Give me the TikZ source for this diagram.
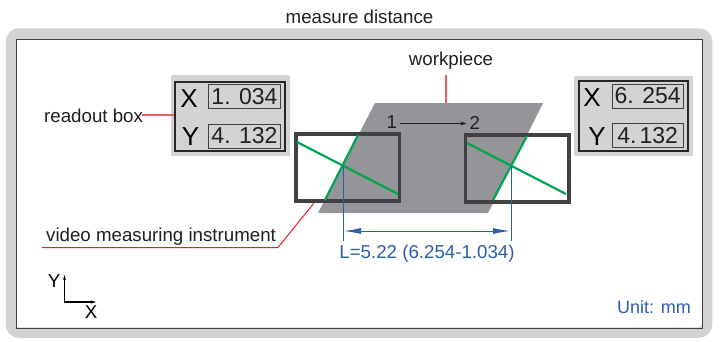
\documentclass[tikz,border=0pt]{standalone}
\usepackage{fontspec}
\setmainfont{Liberation Sans}
\usepackage{xcolor}
\usetikzlibrary{arrows.meta, positioning, calc}
\definecolor{FrameGray}{HTML}{D1D3D4}
\definecolor{PieceGray}{HTML}{939598}
\definecolor{DarkLine}{HTML}{414042}
\definecolor{TextDark}{HTML}{231F20}
\definecolor{LeadRed}{HTML}{ED1C24}
\definecolor{LeadPink}{HTML}{EF5A6B}
\definecolor{CrossGreen}{HTML}{00A651}
\definecolor{DimBlue}{HTML}{2B5FAB}
\tikzset{
  lbl/.style={font=\fontsize{18.7}{20}\selectfont, text=TextDark, inner sep=0pt},
  axis/.style={font=\fontsize{26}{28}\selectfont, text=black, inner sep=0pt},
  digits/.style={draw=DarkLine, line width=1pt, fill=FrameGray, font=\fontsize{23}{25}\selectfont, text=TextDark, inner sep=0pt, minimum width=71.4pt, minimum height=24pt},
  panel/.style={draw=black!85, line width=2pt, fill=FrameGray, inner sep=0pt, minimum width=109.5pt, minimum height=69.5pt},
  halo/.style={fill=FrameGray, rounded corners=1.5pt},
  lead/.style={LeadRed, line width=1pt},
  softlead/.style={LeadPink, line width=1.5pt},
  camera/.style={draw=DarkLine, line width=3.5pt, inner sep=0pt, minimum width=103.5pt, minimum height=67pt},
  hair/.style={CrossGreen, line width=2.2pt},
  dim/.style={DimBlue, line width=1pt},
}

\begin{document}
\begin{tikzpicture}[x=1pt, y=-1pt]
  \useasboundingbox (0,0) rectangle (720,341);
  % frame
  \draw[FrameGray, line width=10.5pt, rounded corners=8pt, fill=white] (11,33.5) rectangle (707,332.5);
  \draw[DarkLine, line width=0.9pt] (16,39) rectangle (702.5,328);
  \node (title) [lbl] at (359.5,17) {measure distance};

  % workpiece
  \fill[PieceGray] (375,103) -- (543,103) -- (488,213) -- (318,213) -- cycle;
  \node (workpiece) [lbl] at (451,61) {workpiece};
  \coordinate (pieceTop) at (446,75);
  \coordinate (pieceEdge) at (446,103);
  \draw[softlead] (pieceTop) -- (pieceEdge);

  % left instrument
  \fill[white] (295,133) -- (359.5,133) -- (323.7,202) -- (295,202) -- cycle;
  \node (camL) [camera, anchor=north west] at (294,132) {};
  \draw[hair] (297,142) -- (398,194);
  \draw[hair] (325,200) -- (358,135);

  % right instrument
  \fill[white] (527.5,134) -- (569,134) -- (569,202) -- (493.5,202) -- cycle;
  \node (camR) [camera, anchor=north west] at (463.5,133) {};
  \draw[hair] (467,143) -- (566,194);
  \draw[hair] (493,200) -- (527,136);

  % travel
  \node (one) [lbl] at (391.7,122.5) {1};
  \node (two) [lbl] at (474.7,122.5) {2};
  \draw[-{Stealth[length=6pt,width=4pt]}, TextDark, line width=0.7pt] ($(one.east)+(3,1)$) -- ($(two.west)+(-3,1)$);

  % readouts
  \fill[halo] (171,75) rectangle (290,156);
  \node (panelL) [panel, anchor=north west] at (174.3,80.7) {};
  \node (xL) [axis] at (189,99) {X};
  \node (yL) [axis] at (190.5,137) {Y};
  \node (xvalL) [digits] at (244.5,96.5) {1. 034};
  \node (yvalL) [digits] at (244.5,136) {4. 132};

  \fill[halo] (574,76) rectangle (693,156);
  \node (panelR) [panel, anchor=north west] at (577.5,80) {};
  \node (xR) [axis] at (592,98) {X};
  \node (yR) [axis] at (597,137) {Y};
  \node (xvalR) [digits] at (647.7,96) {6. 254};
  \node (yvalR) [digits] at (647.7,135.2) {4.\kern3pt 132};

  % leaders
  \node (readout) [lbl, anchor=west] at (44,116) {readout box};
  \draw[softlead] ($(readout.east)+(-1,-1)$) -- (panelL.west |- 0,115);
  \node (video) [lbl, anchor=west] at (46,236.5) {video measuring instrument};
  \coordinate (videoStart) at (42,247.5);
  \coordinate (videoBend) at (278,247.5);
  \coordinate (videoEnd) at (314,203);
  \draw[lead] (videoStart) -- (videoBend) -- (videoEnd);

  % dimension
  \coordinate (dimL) at (343,166);
  \coordinate (dimR) at (511,166);
  \draw[dim] (dimL) -- (343,241);
  \draw[dim] (dimR) -- (511,241);
  \draw[{Latex[length=17pt,width=6pt]}-{Latex[length=17pt,width=6pt]}, dim] (344,231) -- (510,231);
  \node (length) [lbl, text=DimBlue] at (427,254) {L=5.22 (6.254-1.034)};

  % axes
  \coordinate (origin) at (64.5,302);
  \node (axisY) [lbl, text=black] at (54,281) {Y};
  \node (axisX) [lbl, text=black] at (91,312.5) {X};
  \draw[{Stealth[length=5pt,width=3pt]}-{Stealth[length=5pt,width=3pt]}, black, line width=1.1pt] (64.5,275) -- (origin) -- (96,302);

  \node (unit) [lbl, text=DimBlue, anchor=east, font=\fontsize{18}{20}\selectfont] at (691,307) {Unit: mm};
\end{tikzpicture}
\end{document}
